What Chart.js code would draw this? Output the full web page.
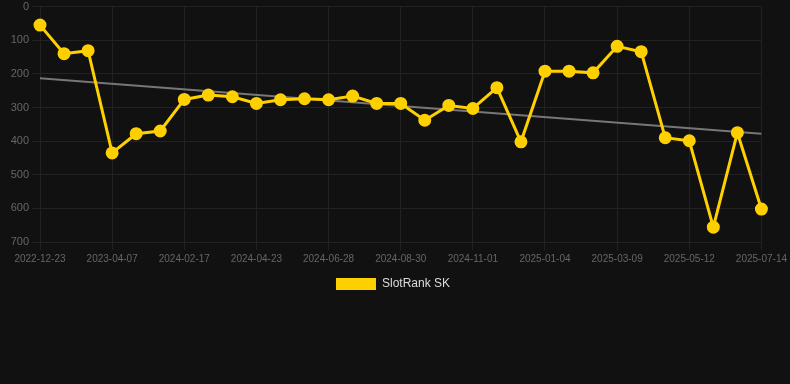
<!DOCTYPE html>
<html>
<head>
<meta charset="utf-8">
<script src="https://cdn.jsdelivr.net/npm/chart.js@4.4.1/dist/chart.umd.min.js"></script>
<style>
  html, body { margin: 0; padding: 0; background: #111111; overflow: hidden; }
  #wrap { position: relative; width: 790px; height: 303px; margin-top: -3px; }
</style>
</head>
<body>
<div id="wrap"><canvas id="c"></canvas></div>
<script>
const dates = [
  "2022-12-23","2023-01-28","2023-03-03","2023-04-07","2023-08-10","2023-12-12",
  "2024-02-17","2024-03-10","2024-04-01","2024-04-23","2024-05-15","2024-06-06",
  "2024-06-28","2024-07-19","2024-08-09","2024-08-30","2024-09-20","2024-10-11",
  "2024-11-01","2024-11-22","2024-12-13","2025-01-04","2025-01-25","2025-02-15",
  "2025-03-09","2025-03-30","2025-04-20","2025-05-12","2025-06-02","2025-06-23",
  "2025-07-14"
];
const slotRankSK = [
  55, 140, 131, 435, 378, 370,
  276, 263, 268, 288, 277, 274,
  277, 266, 288, 288, 338, 294,
  303, 241, 402, 192, 192, 197,
  118, 134, 390, 399, 656, 375,
  602
];
const trendStart = 213;
const trendEnd = 378;
const yTicksMax = 700;

const trend = dates.map((d, i) => i === 0 ? trendStart : (i === dates.length - 1 ? trendEnd : null));

new Chart(document.getElementById('c'), {
  type: 'line',
  data: {
    labels: dates,
    datasets: [
      {
        label: 'SlotRank SK',
        data: slotRankSK,
        borderColor: '#FFD000',
        backgroundColor: '#FFD000',
        borderWidth: 3,
        pointRadius: 5,
        pointHoverRadius: 5,
        pointBackgroundColor: '#FFD000',
        pointBorderColor: '#FFD000',
        tension: 0
      },
      {
        label: 'trend',
        data: trend,
        borderColor: '#777777',
        borderWidth: 2,
        pointRadius: 0,
        spanGaps: true,
        fill: false
      }
    ]
  },
  options: {
    responsive: true,
    maintainAspectRatio: false,
    animation: false,
    layout: { padding: { left: 0, right: 4, top: 0, bottom: 0 } },
    plugins: {
      legend: {
        position: 'bottom',
        labels: {
          color: '#dddddd',
          font: { size: 12 },
          boxWidth: 40,
          boxHeight: 12,
          generateLabels: (chart) => [{
            text: chart.data.datasets[0].label,
            fillStyle: '#FFD000',
            strokeStyle: '#FFD000',
            lineWidth: 0,
            hidden: false,
            datasetIndex: 0,
            fontColor: '#dddddd'
          }]
        }
      },
      tooltip: { enabled: false }
    },
    scales: {
      x: {
        grid: { color: '#222222', tickLength: 8 },
        border: { color: '#222222' },
        ticks: {
          color: '#666666',
          font: { size: 10 },
          maxRotation: 0,
          autoSkip: true,
          callback: function(v, i) { return i % 3 === 0 ? this.getLabelForValue(v) : null; }
        }
      },
      y: {
        reverse: true,
        min: 0,
        max: yTicksMax,
        afterFit: (scale) => { scale.width = 40; },
        grid: { color: '#222222', tickLength: 8 },
        border: { color: '#222222' },
        ticks: { color: '#666666', font: { size: 11 }, stepSize: 100 }
      }
    }
  }
});
</script>
</body>
</html>
